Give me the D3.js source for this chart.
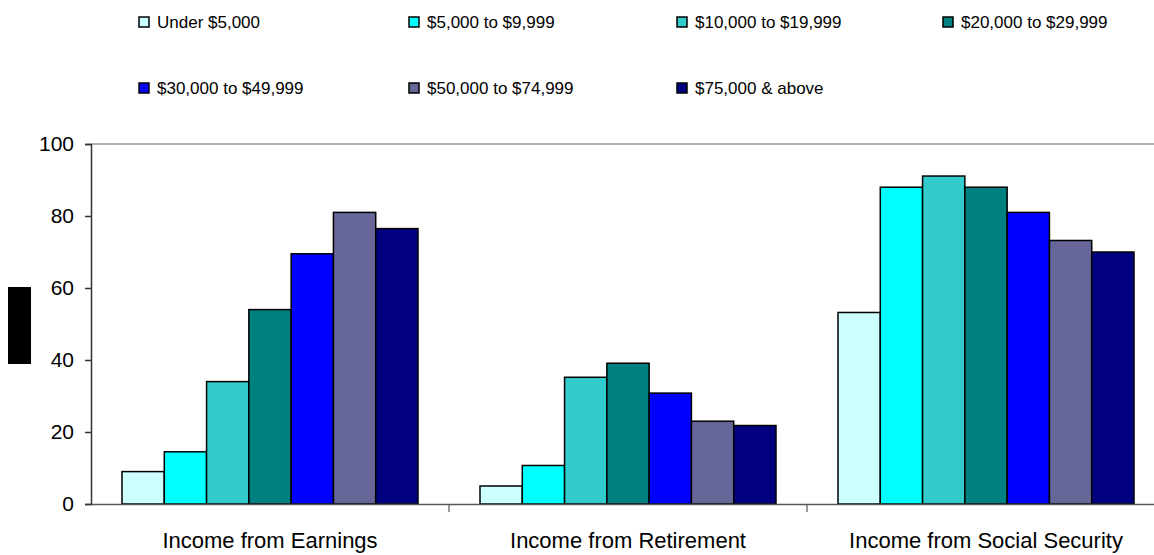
<!DOCTYPE html>
<html>
<head>
<meta charset="utf-8">
<script src="https://cdn.jsdelivr.net/npm/d3@7"></script>
<style>
body { margin: 0; background: #fff; }
text { font-family: "Liberation Sans", Arial, sans-serif; }
</style>
</head>
<body>
<script>
let categories = ["Income from Earnings", "Income from Retirement", "Income from Social Security"]
let brackets = ["Under $5,000", "$5,000 to $9,999", "$10,000 to $19,999", "$20,000 to $29,999",
  "$30,000 to $49,999", "$50,000 to $74,999", "$75,000 & above"]
let colors = ["#ccffff", "#00ffff", "#33cccc", "#008080", "#0000ff", "#666699", "#000080"]

let earnings = [9, 14.5, 34, 54, 69.5, 81, 76.5]
let retirement = [5, 10.7, 35.2, 39.1, 30.8, 23, 21.8]
let socialSecurity = [53.2, 88, 91.1, 88, 81, 73.2, 70]
let yTicks = [0, 20, 40, 60, 80, 100]

let series = [earnings, retirement, socialSecurity]

let w = 1154
let h = 555
let plotLeft = 91
let bandW = 358
let plotTop = 144
let plotBottom = 504

let svg = d3.select("body").append("svg")
  .attr("width", w)
  .attr("height", h)

let xScale = d3.scaleBand().domain(categories).range([plotLeft, plotLeft + bandW * 3])
// bars fill 296 px of each 358 px category
let xInner = d3.scaleBand().domain(brackets).range([31, bandW - 31])
let yScale = d3.scaleLinear().domain([0, 100]).range([plotBottom, plotTop])

// top border of plot
svg.append("line")
  .attr("x1", plotLeft).attr("x2", plotLeft + bandW * 3)
  .attr("y1", plotTop).attr("y2", plotTop)
  .attr("stroke", "#999").attr("stroke-width", 1.5)

// bars
categories.forEach((cat, ci) => {
  svg.append("g")
    .selectAll("rect")
    .data(series[ci])
    .enter()
    .append("rect")
    .attr("x", (d, i) => xScale(cat) + xInner(brackets[i]))
    .attr("width", xInner.bandwidth())
    .attr("y", d => yScale(d))
    .attr("height", d => yScale(0) - yScale(d))
    .attr("fill", (d, i) => colors[i])
    .attr("stroke", "#000")
    .attr("stroke-width", 1.5)
})

// y axis
let yAxis = d3.axisLeft(yScale).tickValues(yTicks).tickSize(6).tickPadding(11)
let yg = svg.append("g")
  .attr("transform", "translate(" + plotLeft + ",0)")
  .call(yAxis)
yg.select(".domain").attr("stroke", "#333").attr("stroke-width", 1.5)
yg.selectAll(".tick line").attr("stroke", "#333").attr("stroke-width", 1.5)
yg.selectAll("text").attr("font-size", 21).attr("fill", "#000")
  .attr("font-family", "'Liberation Sans', Arial, sans-serif")

// x axis
let xAxis = d3.axisBottom(xScale).tickSize(0).tickPadding(28)
let xg = svg.append("g")
  .attr("transform", "translate(0," + plotBottom + ")")
  .call(xAxis)
xg.select(".domain").attr("stroke", "#555").attr("stroke-width", 1.5)
xg.selectAll("text").attr("font-size", 22).attr("fill", "#000")
  .attr("font-family", "'Liberation Sans', Arial, sans-serif")

// category divider ticks
svg.append("g")
  .selectAll("line")
  .data(categories.slice(1))
  .enter()
  .append("line")
  .attr("x1", d => xScale(d)).attr("x2", d => xScale(d))
  .attr("y1", plotBottom).attr("y2", plotBottom + 8)
  .attr("stroke", "#555").attr("stroke-width", 1.2)

// redacted axis title
svg.append("rect")
  .attr("x", 8).attr("y", 287)
  .attr("width", 23).attr("height", 77)
  .attr("fill", "#000")

// legend
let legendX = [139, 409, 677, 943]
let legendY = [22, 88]
let legend = svg.append("g")
brackets.forEach((b, i) => {
  let lx = legendX[i % 4]
  let ly = legendY[Math.floor(i / 4)]
  legend.append("rect")
    .attr("x", lx).attr("y", ly - 5)
    .attr("width", 10).attr("height", 10)
    .attr("fill", colors[i])
    .attr("stroke", "#000")
    .attr("stroke-width", 1.5)
  legend.append("text")
    .attr("x", lx + 18).attr("y", ly)
    .attr("dy", "0.35em")
    .attr("font-size", 17)
    .text(b)
})
</script>
</body>
</html>
